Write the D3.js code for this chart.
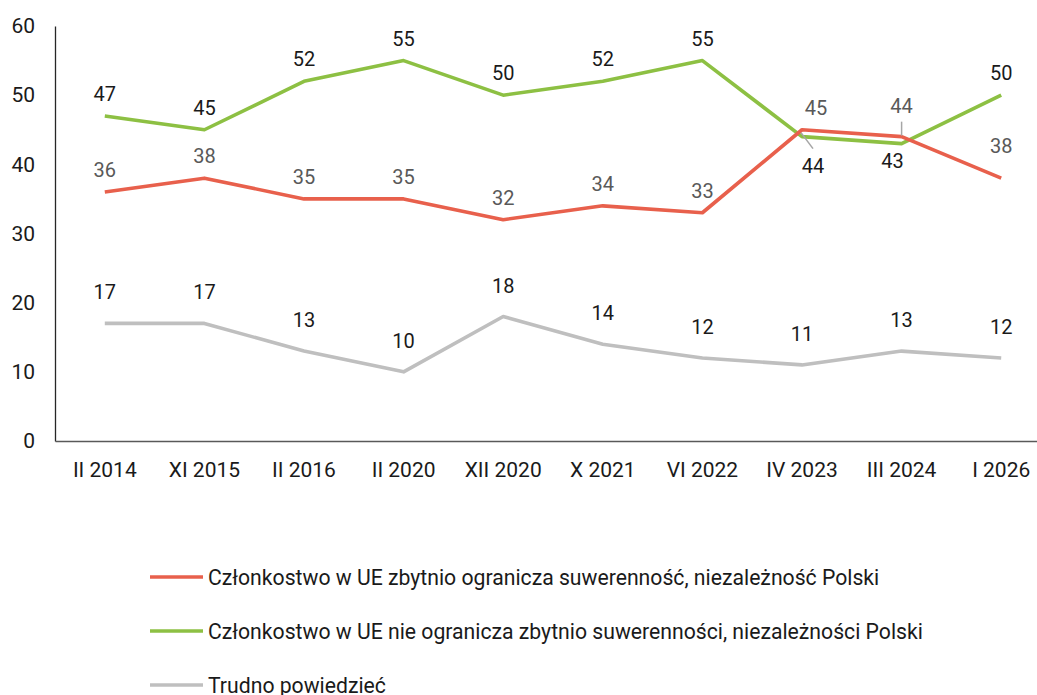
<!DOCTYPE html>
<html lang="pl">
<head>
    <meta charset="UTF-8">
    <title>Członkostwo w UE a suwerenność Polski</title>
    <style>
        html, body {
            margin: 0;
            padding: 0;
            background-color: #fff;
            font-family: 'Roboto', sans-serif;
        }
        svg text { font-family: 'Roboto', sans-serif; }
    </style>
</head>
<body>
    <svg id="chart" width="1037" height="695"></svg>
    <script src="https://d3js.org/d3.v7.min.js"></script>
    <script>
        // DATA
        const categories = ["II 2014", "XI 2015", "II 2016", "II 2020", "XII 2020", "X 2021", "VI 2022", "IV 2023", "III 2024", "I 2026"];
        const limitsValues = [36, 38, 35, 35, 32, 34, 33, 45, 44, 38];
        const notLimitsValues = [47, 45, 52, 55, 50, 52, 55, 44, 43, 50];
        const hardToSayValues = [17, 17, 13, 10, 18, 14, 12, 11, 13, 12];
        const yTicks = [0, 10, 20, 30, 40, 50, 60];
        const seriesNames = [
            "Członkostwo w UE zbytnio ogranicza suwerenność, niezależność Polski",
            "Członkostwo w UE nie ogranicza zbytnio suwerenności, niezależności Polski",
            "Trudno powiedzieć"
        ];

        const series = [
            {name: seriesNames[0], values: limitsValues, colour: "#E8604C", labelColour: "#595959"},
            {name: seriesNames[1], values: notLimitsValues, colour: "#8DC043", labelColour: "#1a1a1a"},
            {name: seriesNames[2], values: hardToSayValues, colour: "#BFBFBF", labelColour: "#1a1a1a"}
        ];

        // label offsets (dx, dy from the point), default above the point
        const defaultDy = [-15, -15, -24];
        const labelTweaks = {
            "0-7": {dx: 14, dy: -15},
            "0-8": {dx: 0, dy: -24, leader: [0, -15, 0, -1]},
            "0-9": {dx: 0, dy: -25},
            "1-7": {dx: 11, dy: 36, leader: [-1, -4, 11, 12]},
            "1-8": {dx: -9, dy: 24}
        };

        const margin = {top: 26, left: 55, bottom: 254, right: -14};
        const W = 1037, H = 695;
        const width = W - margin.left - margin.right;
        const height = H - margin.top - margin.bottom;

        const svg = d3.select("#chart");
        const g = svg.append("g").attr("transform", `translate(${margin.left},${margin.top})`);

        const x = d3.scaleBand().domain(categories).range([0, width]);
        const y = d3.scaleLinear().domain([0, 60]).range([height, 0]);
        const cx = (d) => x(d) + x.bandwidth() / 2;

        // AXES
        const yAxis = g.append("g")
            .call(d3.axisLeft(y).tickValues(yTicks).tickSize(0).tickPadding(20));
        yAxis.select(".domain").attr("stroke", "#262626").attr("stroke-width", 1.3);
        yAxis.selectAll("text").attr("font-size", 21).attr("fill", "#1a1a1a");

        const xAxis = g.append("g")
            .attr("transform", `translate(0,${height})`)
            .call(d3.axisBottom(x).tickSize(0).tickPadding(21));
        xAxis.select(".domain").attr("stroke", "#595959").attr("stroke-width", 1.3);
        xAxis.selectAll("text").attr("font-size", 21).attr("fill", "#1a1a1a");

        // LINES
        const line = d3.line()
            .x((d, i) => cx(categories[i]))
            .y((d) => y(d));

        // draw grey first, then green, then red on top
        [2, 1, 0].forEach((si) => {
            const s = series[si];
            g.append("path")
                .datum(s.values)
                .attr("d", line)
                .attr("fill", "none")
                .attr("stroke", s.colour)
                .attr("stroke-width", 3.6)
                .attr("stroke-linejoin", "round");
        });

        // LABELS
        series.forEach((s, si) => {
            s.values.forEach((v, i) => {
                const px = cx(categories[i]);
                const py = y(v);
                const t = labelTweaks[`${si}-${i}`] || {dx: 0, dy: defaultDy[si]};
                if (t.leader) {
                    g.append("line")
                        .attr("x1", px + t.leader[0]).attr("y1", py + t.leader[1])
                        .attr("x2", px + t.leader[2]).attr("y2", py + t.leader[3])
                        .attr("stroke", "#A6A6A6")
                        .attr("stroke-width", 1.5);
                }
                g.append("text")
                    .attr("x", px + t.dx)
                    .attr("y", py + t.dy)
                    .attr("text-anchor", "middle")
                    .attr("font-size", 20)
                    .attr("fill", s.labelColour)
                    .text(v);
            });
        });

        // LEGEND
        const legend = svg.append("g").attr("transform", "translate(150,577)");
        series.forEach((s, i) => {
            const row = legend.append("g").attr("transform", `translate(0,${i * 54})`);
            row.append("line")
                .attr("x1", 0).attr("x2", 53)
                .attr("y1", 0).attr("y2", 0)
                .attr("stroke", s.colour)
                .attr("stroke-width", 3.6);
            row.append("text")
                .attr("x", 58)
                .attr("y", 8)
                .attr("font-size", 21.2)
                .attr("fill", "#1a1a1a")
                .text(s.name);
        });
    </script>
</body>
</html>
